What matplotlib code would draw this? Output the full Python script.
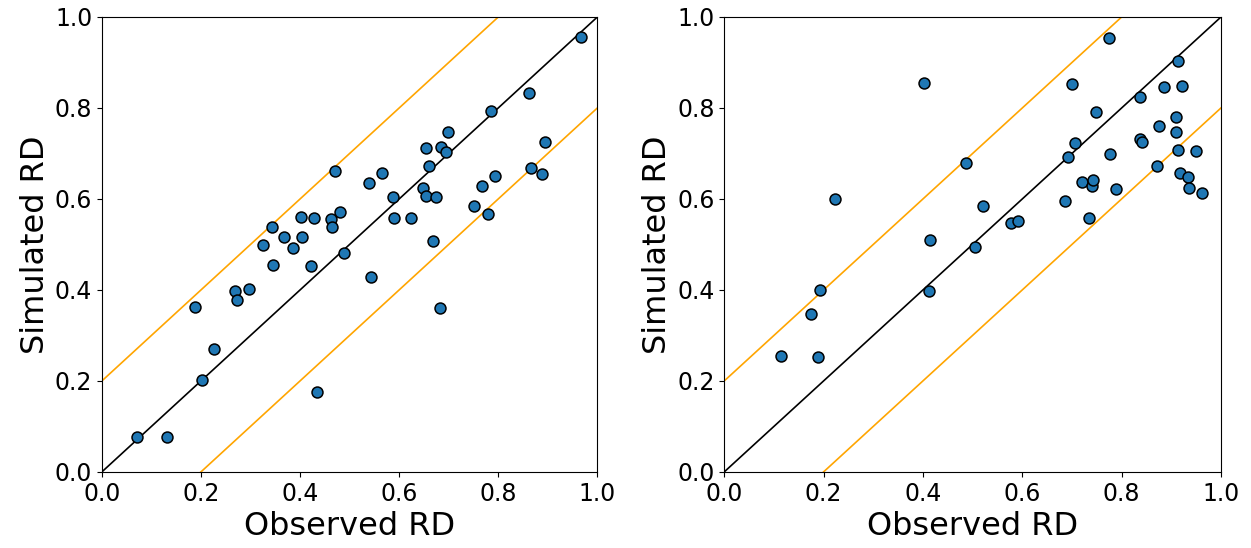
import numpy as np
import matplotlib
matplotlib.use("Agg")
import matplotlib.pyplot as plt

# Observed vs simulated RD, first run
obs_a = [0.071, 0.132, 0.188, 0.202, 0.227, 0.268, 0.273, 0.297, 0.325, 0.344,
         0.345, 0.367, 0.386, 0.402, 0.404, 0.422, 0.428, 0.435, 0.463, 0.464,
         0.470, 0.480, 0.488, 0.540, 0.544, 0.565, 0.587, 0.589, 0.624, 0.649,
         0.654, 0.655, 0.660, 0.668, 0.675, 0.683, 0.685, 0.695, 0.698, 0.750,
         0.768, 0.780, 0.786, 0.794, 0.862, 0.867, 0.889, 0.895, 0.967]
sim_a = [0.077, 0.076, 0.363, 0.202, 0.270, 0.398, 0.377, 0.403, 0.499, 0.538,
         0.454, 0.516, 0.493, 0.561, 0.517, 0.453, 0.559, 0.175, 0.555, 0.539,
         0.662, 0.572, 0.482, 0.635, 0.428, 0.658, 0.604, 0.559, 0.557, 0.623,
         0.607, 0.711, 0.673, 0.507, 0.604, 0.360, 0.714, 0.704, 0.747, 0.585,
         0.628, 0.566, 0.794, 0.651, 0.832, 0.668, 0.654, 0.725, 0.955]

# second run
obs_b = [0.115, 0.174, 0.188, 0.192, 0.222, 0.402, 0.413, 0.414, 0.487, 0.505,
         0.521, 0.578, 0.591, 0.685, 0.692, 0.700, 0.706, 0.721, 0.734, 0.740,
         0.742, 0.749, 0.774, 0.777, 0.788, 0.836, 0.836, 0.840, 0.871, 0.875,
         0.885, 0.909, 0.909, 0.913, 0.914, 0.917, 0.921, 0.934, 0.935, 0.950,
         0.962]
sim_b = [0.254, 0.347, 0.253, 0.400, 0.599, 0.854, 0.398, 0.509, 0.680, 0.494,
         0.585, 0.547, 0.551, 0.595, 0.693, 0.852, 0.723, 0.637, 0.558, 0.629,
         0.641, 0.792, 0.954, 0.699, 0.622, 0.824, 0.731, 0.725, 0.673, 0.761,
         0.846, 0.781, 0.748, 0.904, 0.708, 0.656, 0.849, 0.649, 0.625, 0.705,
         0.612]

band = 0.2
ticks = [0.0, 0.2, 0.4, 0.6, 0.8, 1.0]

fig = plt.figure(figsize=(12.51, 5.48), dpi=100)
ax1 = fig.add_axes([0.0815, 0.139, 0.396, 0.830])
ax2 = fig.add_axes([0.579, 0.139, 0.397, 0.830])

for ax, x, y in [(ax1, obs_a, sim_a), (ax2, obs_b, sim_b)]:
    line = np.array([0.0, 1.0])
    # 1:1 line and the +/- 0.2 band
    ax.plot(line, line, color="black", lw=1.2, zorder=1)
    ax.plot(line, line + band, color="orange", lw=1.2, zorder=1)
    ax.plot(line, line - band, color="orange", lw=1.2, zorder=1)
    ax.scatter(x, y, s=62, color="#1f77b4", edgecolors="black", linewidths=1.1, zorder=2)
    ax.set_xlim(0, 1)
    ax.set_ylim(0, 1)
    ax.set_xticks(ticks)
    ax.set_yticks(ticks)
    ax.tick_params(labelsize=17)
    ax.set_xlabel("Observed RD", fontsize=23, labelpad=4)
    ax.set_ylabel("Simulated RD", fontsize=23, labelpad=3)

fig.savefig("out.png", dpi=100)
